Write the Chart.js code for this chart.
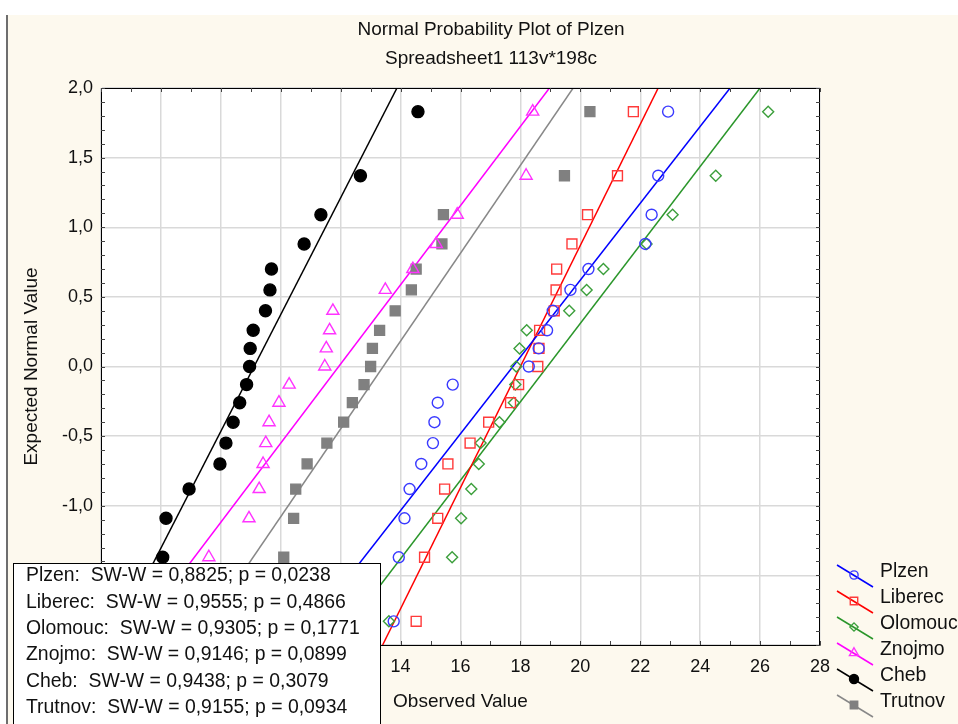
<!DOCTYPE html>
<html><head><meta charset="utf-8">
<script src="https://cdn.jsdelivr.net/npm/chart.js@4/dist/chart.umd.min.js"></script>
<style>html,body{margin:0;padding:0;background:#fff;}canvas{display:block;}</style>
</head><body>
<canvas id="c" width="958" height="724"></canvas>
<script>
// ---------- DATA ----------
const titleText = 'Normal Probability Plot of Plzen';
const subtitleText = 'Spreadsheet1 113v*198c';
const xAxisTitle = 'Observed Value';
const yAxisTitle = 'Expected Normal Value';
const seriesNames = ['Plzen', 'Liberec', 'Olomouc', 'Znojmo', 'Cheb', 'Trutnov'];
// expected normal values (y) for the 19 ranked observations
const expectedNormal = [-1.83, -1.37, -1.09, -0.88, -0.70, -0.55, -0.40, -0.26, -0.13, 0, 0.13, 0.26, 0.40, 0.55, 0.70, 0.88, 1.09, 1.37, 1.83];
// observed values, sorted
const plzen   = [13.77, 13.94, 14.13, 14.30, 14.69, 15.08, 15.13, 15.24, 15.74, 18.28, 18.61, 18.89, 19.08, 19.67, 20.27, 22.17, 22.38, 22.60, 22.93];
const liberec = [14.52, 14.80, 15.24, 15.47, 15.58, 16.32, 16.94, 17.67, 17.94, 18.58, 18.62, 18.64, 19.13, 19.19, 19.21, 19.72, 20.24, 21.24, 21.77];
const olomouc = [13.61, 15.72, 16.02, 16.36, 16.61, 16.67, 17.30, 17.78, 17.83, 17.86, 17.97, 18.21, 19.63, 20.21, 20.77, 22.21, 23.08, 24.52, 26.27];
const znojmo  = [6.00, 7.60, 8.94, 9.28, 9.41, 9.50, 9.61, 9.94, 10.28, 11.47, 11.52, 11.63, 11.74, 13.49, 14.41, 15.19, 15.89, 18.19, 18.41];
const cheb    = [5.20, 6.06, 6.17, 6.94, 7.97, 8.17, 8.41, 8.63, 8.86, 8.96, 8.98, 9.08, 9.49, 9.64, 9.69, 10.78, 11.34, 12.66, 14.58];
const trutnov = [8.60, 10.10, 10.43, 10.50, 10.88, 11.54, 12.10, 12.39, 12.78, 13.00, 13.06, 13.30, 13.82, 14.36, 14.52, 15.38, 15.43, 19.47, 20.32];
// fitted lines: observed value at expected normal = -2 and = 2
const fitLineZ = [-2, 2];
const fitBottomX = [10.5, 13.4, 11.8, 4.9, 4.34, 7.08];
const fitTopX    = [25.0, 22.6, 26.0, 18.97, 13.88, 19.76];
// Shapiro-Wilk results
const swW  = ['0,8825', '0,9555', '0,9305', '0,9146', '0,9438', '0,9155'];
const swP  = ['0,0238', '0,4866', '0,1771', '0,0899', '0,3079', '0,0934'];
// axis ticks
const xTickValues = [4, 6, 8, 10, 12, 14, 16, 18, 20, 22, 24, 26, 28];
const yTickValues = [-2.0, -1.5, -1.0, -0.5, 0.0, 0.5, 1.0, 1.5, 2.0];

// ---------- STYLE ----------
const FONT = 'Arial, "Liberation Sans", sans-serif';
const seriesValues = [plzen, liberec, olomouc, znojmo, cheb, trutnov];
const colors = ['#0000ff', '#ff0000', '#2a962a', '#ff00ff', '#000000', '#888888'];
const markerColors = ['#3a3aff', '#ff3a3a', '#3c9f3c', '#ff33ff', '#000000', '#808080'];
const styles = ['circle', 'rect', 'rectRot', 'triangle', 'circle', 'rect'];
const radii = [5.5, 7, 5.5, 7, 6, 7];
const filled = [false, false, false, false, true, true];

const datasets = [];
seriesValues.forEach((vals, s) => {
  datasets.push({
    label: seriesNames[s],
    data: vals.map((v, i) => ({x: v, y: expectedNormal[i]})),
    showLine: false,
    pointStyle: styles[s],
    pointRadius: radii[s],
    pointHoverRadius: radii[s],
    pointBorderWidth: 1.4,
    borderColor: markerColors[s],
    backgroundColor: filled[s] ? markerColors[s] : 'rgba(0,0,0,0)',
    order: 1
  });
  datasets.push({
    label: seriesNames[s] + ' fit',
    data: [{x: fitBottomX[s], y: fitLineZ[0]}, {x: fitTopX[s], y: fitLineZ[1]}],
    showLine: true,
    pointRadius: 0,
    borderWidth: 1.5,
    borderColor: colors[s],
    backgroundColor: colors[s],
    order: 2
  });
});

const decoPlugin = {
  id: 'deco',
  beforeDraw(chart) {
    const {ctx, chartArea: a} = chart;
    ctx.save();
    ctx.fillStyle = '#ffffff';
    ctx.fillRect(0, 0, 958, 724);
    ctx.fillStyle = '#fdf9ee';
    ctx.fillRect(8, 15, 950, 709);
    ctx.fillStyle = '#6e6e6e';
    ctx.fillRect(6, 15, 2, 709);
    ctx.fillStyle = '#ffffff';
    ctx.fillRect(a.left, a.top, a.right - a.left, a.bottom - a.top);
    ctx.fillStyle = '#111';
    ctx.font = '19px ' + FONT;
    ctx.textAlign = 'center';
    ctx.textBaseline = 'middle';
    ctx.fillText(titleText, 491, 30);
    ctx.fillText(subtitleText, 491, 59);
    ctx.restore();
  },
  afterDatasetsDraw(chart) {
    const {ctx, chartArea: a, scales: {x, y}} = chart;
    ctx.save();
    ctx.strokeStyle = '#000';
    ctx.lineWidth = 1;
    ctx.strokeRect(a.left + 0.5, a.top + 0.5, a.right - a.left - 1, a.bottom - a.top);
    ctx.strokeStyle = '#444';
    ctx.beginPath();
    for (let v = x.min; v <= x.max + 1e-9; v += 1) {
      const px = Math.round(x.getPixelForValue(v)) + 0.5;
      ctx.moveTo(px, a.top); ctx.lineTo(px, a.top + 4);
      ctx.moveTo(px, a.bottom); ctx.lineTo(px, a.bottom - 4);
    }
    for (let k = -20; k <= 20; k++) {
      const py = Math.round(y.getPixelForValue(k / 10)) + 0.5;
      ctx.moveTo(a.left, py); ctx.lineTo(a.left + 4, py);
      ctx.moveTo(a.right, py); ctx.lineTo(a.right - 4, py);
    }
    ctx.stroke();
    ctx.restore();
  },
  afterDraw(chart) {
    const {ctx} = chart;
    ctx.save();
    // Shapiro-Wilk box
    ctx.fillStyle = '#ffffff';
    ctx.fillRect(13, 563, 368, 161);
    ctx.strokeStyle = '#000';
    ctx.lineWidth = 1;
    ctx.strokeRect(13.5, 563.5, 367, 170);
    ctx.fillStyle = '#111';
    ctx.font = '19.4px ' + FONT;
    ctx.textAlign = 'left';
    ctx.textBaseline = 'middle';
    seriesNames.forEach((n, i) => {
      ctx.fillText(n + ':  SW-W = ' + swW[i] + '; p = ' + swP[i], 26, 576 + i * 26.3);
    });
    // legend
    ctx.font = '19.4px ' + FONT;
    seriesNames.forEach((n, i) => {
      const ty = 572 + i * 26;
      ctx.strokeStyle = colors[i];
      ctx.lineWidth = 1.5;
      ctx.beginPath();
      ctx.moveTo(837, ty - 7);
      ctx.lineTo(873, ty + 15);
      ctx.stroke();
      ctx.fillStyle = filled[i] ? markerColors[i] : 'rgba(0,0,0,0)';
      ctx.strokeStyle = markerColors[i];
      ctx.lineWidth = 1.4;
      Chart.helpers.drawPoint(ctx, {pointStyle: styles[i], radius: radii[i] * 0.75, rotation: 0, borderWidth: 1.4}, 854, ty + 3);
      ctx.fillStyle = '#111';
      ctx.fillText(n, 880, ty);
    });
    ctx.restore();
  }
};

Chart.defaults.color = '#111';
Chart.defaults.font.family = FONT;

new Chart(document.getElementById('c'), {
  type: 'scatter',
  data: {datasets},
  options: {
    responsive: false,
    animation: false,
    events: [],
    layout: {padding: {top: 88, right: 138, left: 0, bottom: 0}},
    plugins: {legend: {display: false}, tooltip: {enabled: false}, title: {display: false}},
    scales: {
      x: {
        type: 'linear', min: 4, max: 28,
        afterFit(s) { s.height = 79; },
        afterBuildTicks(s) { s.ticks = xTickValues.map(v => ({value: v})); },
        ticks: {font: {size: 18}, padding: 11, callback: v => String(v), maxRotation: 0},
        grid: {color: '#d9d9d9', lineWidth: 1.5, drawTicks: false},
        border: {display: true, color: '#000', width: 1},
        title: {display: true, text: xAxisTitle, font: {size: 19}, padding: {top: 0, bottom: 11}}
      },
      y: {
        type: 'linear', min: -2, max: 2,
        afterFit(s) { s.width = 101; },
        afterBuildTicks(s) { s.ticks = yTickValues.map(v => ({value: v})); },
        ticks: {font: {size: 18}, padding: 8, callback: v => v.toFixed(1).replace('.', ',')},
        grid: {color: '#d9d9d9', lineWidth: 1.5, drawTicks: false},
        border: {display: true, color: '#000', width: 1},
        title: {display: true, text: yAxisTitle, font: {size: 19}, padding: {top: 20, bottom: 0}}
      }
    }
  },
  plugins: [decoPlugin]
});
</script>
</body></html>
